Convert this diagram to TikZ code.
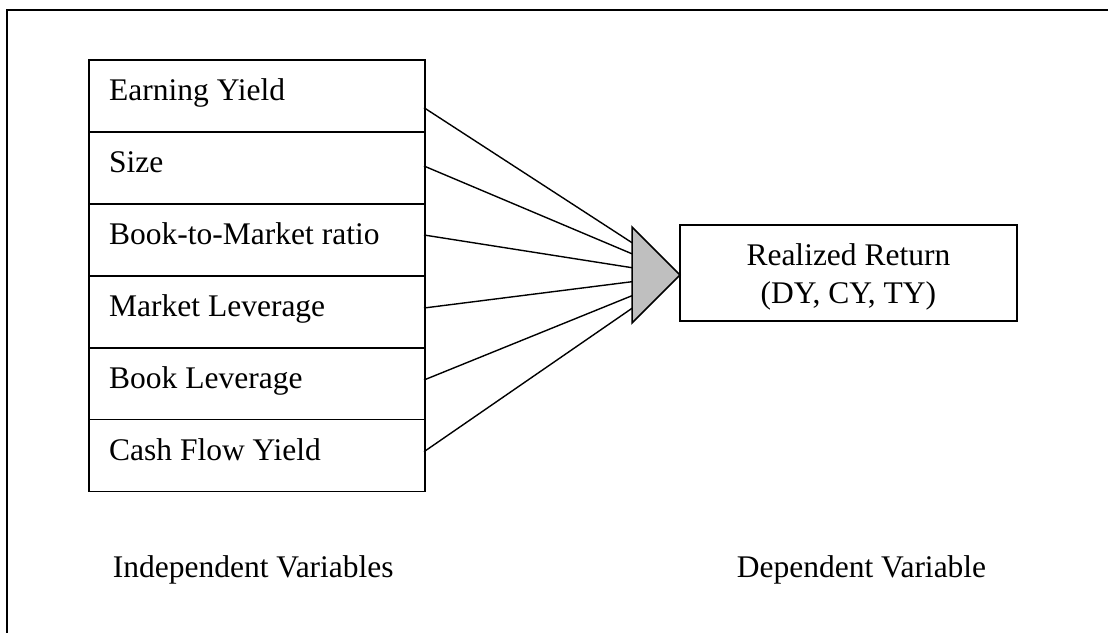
\documentclass[tikz,border=0pt]{standalone}
\usepackage{fontspec}
\setmainfont{Liberation Serif}
\begin{document}
\begin{tikzpicture}[x=1pt,y=-1pt,
  frame/.style={line width=1.7pt},
  rowbox/.style={draw, line width=1.5pt, rectangle, anchor=north west, minimum width=336pt, minimum height=72pt, inner sep=0pt},
  lbl/.style={anchor=base west, inner sep=0pt, font=\fontsize{31.5}{38}\selectfont},
  clbl/.style={anchor=base, inner sep=0pt, font=\fontsize{31.5}{38}\selectfont},
  conn/.style={line width=1.4pt},
  tri/.style={draw, line width=1.5pt, fill=black!25, line join=miter},
  resbox/.style={draw, line width=1.5pt, rectangle, minimum width=337pt, minimum height=96pt, inner sep=0pt}
]
\clip (0,0) rectangle (1108,632);
\fill[white] (0,0) rectangle (1108,632);
% outer frame (right and bottom edges lie outside the picture)
\draw[frame] (1120,10) -- (7,10) -- (7,645);

% independent variable boxes
\node[rowbox] (r1) at (88,59.3) {};
\node[rowbox] (r2) at (88,131.2) {};
\node[rowbox] (r3) at (88,203.1) {};
\node[rowbox] (r4) at (88,275) {};
\node[rowbox] (r5) at (88,346.9) {};
\node[rowbox] (r6) at (88,418.8) {};
\node[lbl] (l1) at (109,100.9) {Earning Yield};
\node[lbl] (l2) at (109,172.8) {Size};
\node[lbl] (l3) at (109,244.7) {Book-to-Market ratio};
\node[lbl] (l4) at (109,316.6) {Market Leverage};
\node[lbl] (l5) at (109,388.5) {Book Leverage};
\node[lbl] (l6) at (109,460.4) {Cash Flow Yield};

% triangle
\coordinate (t1) at (632,227);
\coordinate (t2) at (632,323);
\coordinate (t3) at (680,275);

% connector ends
\coordinate (s1) at (424,107.7);
\coordinate (s2) at (424,166);
\coordinate (s3) at (424,235);
\coordinate (s4) at (424,308);
\coordinate (s5) at (424,380);
\coordinate (s6) at (424,451.7);
\coordinate (e1) at (632,242.7);
\coordinate (e2) at (632,253.8);
\coordinate (e3) at (632,267.7);
\coordinate (e4) at (632,281.7);
\coordinate (e5) at (632,295.7);
\coordinate (e6) at (632,308.3);
\foreach \i in {1,...,6} \draw[conn] (s\i) -- (e\i);

\draw[tri] (t1) -- (t3) -- (t2) -- cycle;

% dependent variable box
\node[resbox] (rr) at (848.4,273) {};
\node[clbl] (rr1) at (848.4,265) {Realized Return};
\node[clbl] (rr2) at (848.4,303) {(DY, CY, TY)};

% captions
\node[lbl] (ci) at (112.7,577.7) {Independent Variables};
\node[lbl] (cd) at (736.7,577.7) {Dependent Variable};
\end{tikzpicture}
\end{document}
